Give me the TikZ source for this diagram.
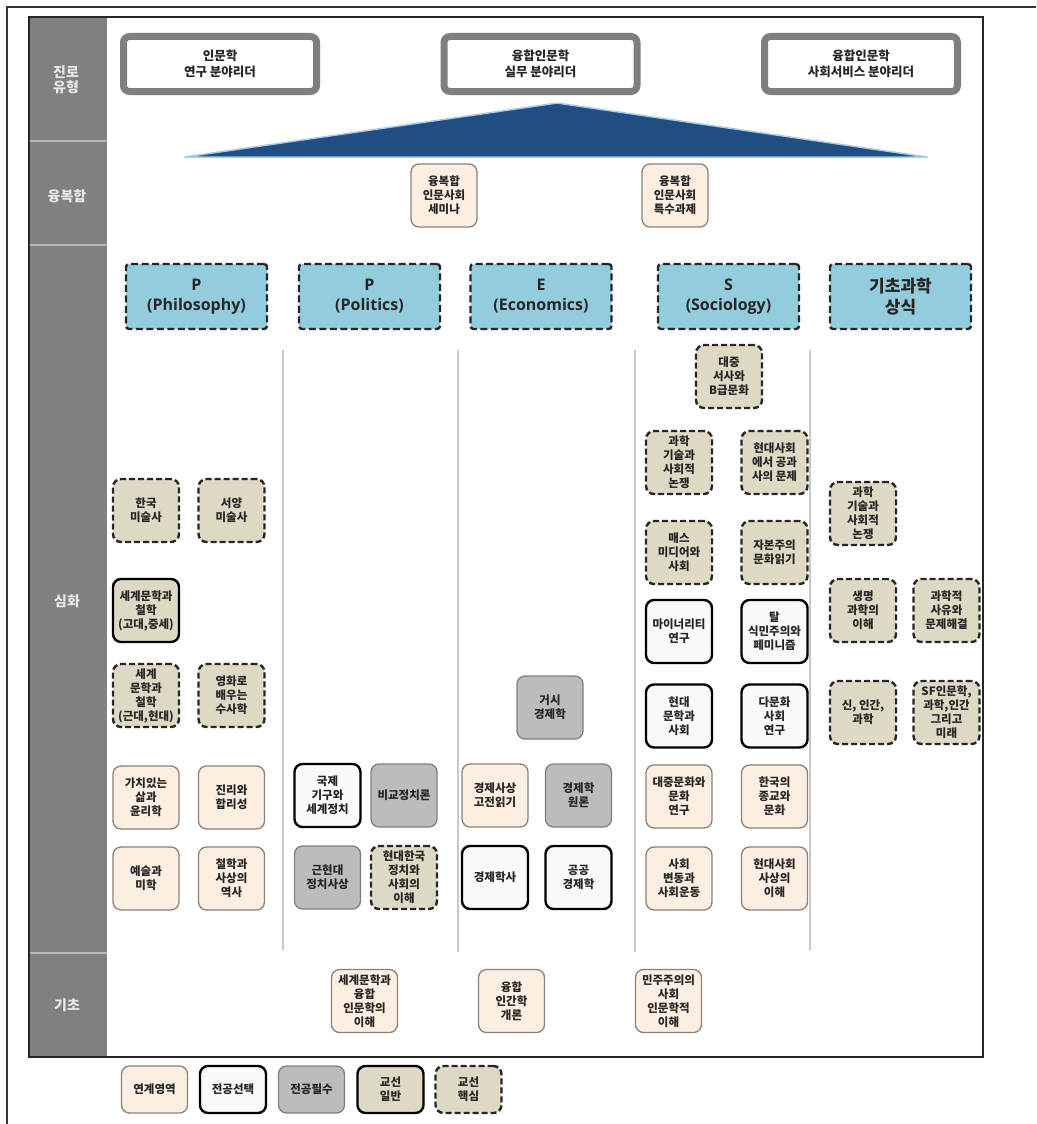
\documentclass[tikz,border=0pt]{standalone}
\usepackage{fontspec}
\setmainfont{Noto Sans CJK KR}
\newfontfamily\lat{Open Sans}
\definecolor{linen}{HTML}{FCEEE0}
\definecolor{linenb}{HTML}{8A817A}
\definecolor{selw}{HTML}{F9F9F9}
\definecolor{reqg}{HTML}{BCBCBC}
\definecolor{reqb}{HTML}{7F7F7F}
\definecolor{khaki}{HTML}{DDD9C4}
\definecolor{catb}{HTML}{93CDDD}
\definecolor{carg}{HTML}{7F7F7F}
\definecolor{sidegray}{HTML}{808080}
\definecolor{sidetxt}{HTML}{E8E8E8}
\definecolor{sidesep}{HTML}{B8B8B8}
\definecolor{sepg}{HTML}{C8C8C8}
\definecolor{tri}{HTML}{1F4E84}
\definecolor{triedge}{HTML}{A9CBEA}
\definecolor{txt}{HTML}{262626}
\begin{document}
\begin{tikzpicture}[x=1pt,y=-1pt,
  base/.style={rounded corners=8pt, minimum width=66pt, minimum height=63pt, inner sep=0pt, align=center, font=\fontsize{11.5}{14}\selectfont\bfseries, text=txt},
  lk/.style={base, fill=linen, draw=linenb, line width=1.3pt},
  sel/.style={base, fill=selw, draw=black, line width=2.4pt},
  req/.style={base, fill=reqg, draw=reqb, line width=1.3pt},
  gen/.style={base, fill=khaki, draw=black, line width=2.4pt},
  core/.style={base, fill=khaki, draw=black!85, line width=2.4pt, dash pattern=on 6pt off 3pt},
  legend/.style={minimum height=47pt},
  cat/.style={rounded corners=3pt, minimum width=141pt, minimum height=65pt, inner sep=0pt, fill=catb, draw=black!85, line width=2.4pt, dash pattern=on 7pt off 3.5pt, align=center, font=\fontsize{16}{20}\selectfont\bfseries, text=txt},
  career/.style={rounded corners=6pt, minimum width=193pt, minimum height=55pt, inner sep=0pt, draw=carg, line width=7pt, fill=white, align=center, font=\fontsize{12.5}{16}\selectfont\bfseries, text=txt},
  side/.style={font=\fontsize{14}{17}\selectfont\bfseries, text=sidetxt, align=center},
  sepline/.style={draw=sepg, line width=1.3pt}
]
\useasboundingbox (0,0) rectangle (1036,1124);
\fill[white] (0,0) rectangle (1036,1124);
% outer partial frame
\draw[line width=1.5pt, black!80] (7,1124) -- (7,7) -- (1036,7);
% side column
\fill[sidegray] (29,17) rectangle (107,1057);
\draw[sidesep, line width=1.5pt] (29,141) -- (107,141);
\draw[sidesep, line width=1.5pt] (29,245) -- (107,245);
\draw[sidesep, line width=1.5pt] (29,953) -- (107,953);
\node[side] (s1) at (66,80) {진로\\[-2pt]유형};
\node[side] (s2) at (67,196) {융복합};
\node[side] (s3) at (67,601) {심화};
\node[side] (s4) at (67,1005) {기초};
% career boxes
\node[career] (c1) at (220,64) {인문학\\연구 분야리더};
\node[career] (c2) at (540.5,64) {융합인문학\\실무 분야리더};
\node[career] (c3) at (861,64) {융합인문학\\사회서비스 분야리더};
% triangle
\draw[draw=triedge, line width=1.5pt, fill=tri, line join=round] (185,157) -- (557,103) -- (927,157) -- cycle;
% convergence
\node[lk] (f1) at (444,195.5) {융복합\\인문사회\\세미나};
\node[lk] (f2) at (675,195.5) {융복합\\인문사회\\특수과제};
% category headers
\node[cat] (k1) at (196.5,296.5) {\lat\bfseries P\\\lat\bfseries (Philosophy)};
\node[cat] (k2) at (369.5,296.5) {\lat\bfseries P\\\lat\bfseries (Politics)};
\node[cat] (k3) at (541,296.5) {\lat\bfseries E\\\lat\bfseries (Economics)};
\node[cat] (k4) at (728.5,296.5) {\lat\bfseries S\\\lat\bfseries (Sociology)};
\node[cat, font=\fontsize{17}{21}\selectfont\bfseries] (k5) at (900.5,296.5) {기초과학\\상식};
% column separators
\draw[sepline] (283,350) -- (283,950);
\draw[sepline] (458,350) -- (458,952);
\draw[sepline] (635,350) -- (635,952);
\draw[sepline] (810,350) -- (810,950);
% philosophy
\node[core] (p1) at (146,510.5) {한국\\미술사};
\node[core] (p2) at (231.5,510.5) {서양\\미술사};
\node[gen] (p3) at (146,610.5) {세계문학과\\철학\\(고대,중세)};
\node[core] (p4) at (146,695.5) {세계\\문학과\\철학\\(근대,현대)};
\node[core] (p5) at (231.5,695.5) {영화로\\배우는\\수사학};
\node[lk] (p6) at (146,797.5) {가치있는\\삶과\\윤리학};
\node[lk] (p7) at (231.5,797.5) {진리와\\합리성};
\node[lk] (p8) at (146,878.5) {예술과\\미학};
\node[lk] (p9) at (231.5,878.5) {철학과\\사상의\\역사};
% politics
\node[sel] (q1) at (327.5,795.5) {국제\\기구와\\세계정치};
\node[req] (q2) at (404,795.5) {비교정치론};
\node[req] (q3) at (327.5,877.5) {근현대\\정치사상};
\node[core] (q4) at (404,877.5) {현대한국\\정치와\\사회의\\이해};
% economics
\node[req] (e1) at (550,707.5) {거시\\경제학};
\node[lk] (e2) at (495,795.5) {경제사상\\고전읽기};
\node[req] (e3) at (578.5,795.5) {경제학\\원론};
\node[sel] (e4) at (495,877.5) {경제학사};
\node[sel] (e5) at (578.5,877.5) {공공\\경제학};
% sociology
\node[core] (o1) at (729,376.5) {대중\\서사와\\B급문화};
\node[core] (o2) at (679,462.5) {과학\\기술과\\사회적\\논쟁};
\node[core] (o3) at (774.5,462.5) {현대사회\\에서 공과\\사의 문제};
\node[core] (o4) at (679,552.5) {매스\\미디어와\\사회};
\node[core] (o5) at (774.5,552.5) {자본주의\\문화읽기};
\node[sel] (o6) at (679,631.5) {마이너리티\\연구};
\node[sel] (o7) at (774.5,631.5) {탈\\식민주의와\\페미니즘};
\node[sel] (o8) at (679,716) {현대\\문학과\\사회};
\node[sel] (o9) at (774.5,716) {다문화\\사회\\연구};
\node[lk] (o10) at (679,796.5) {대중문화와\\문화\\연구};
\node[lk] (o11) at (774.5,796.5) {한국의\\종교와\\문화};
\node[lk] (o12) at (679,878.5) {사회\\변동과\\사회운동};
\node[lk] (o13) at (774.5,878.5) {현대사회\\사상의\\이해};
% basic science
\node[core] (b1) at (863,513.5) {과학\\기술과\\사회적\\논쟁};
\node[core] (b2) at (863,610.5) {생명\\과학의\\이해};
\node[core] (b3) at (946.5,610.5) {과학적\\사유와\\문제해결};
\node[core] (b4) at (863,712.5) {신, 인간,\\과학};
\node[core] (b5) at (946.5,712.5) {SF인문학,\\과학,인간\\그리고\\미래};
% foundation
\node[lk] (g1) at (364.5,1001) {세계문학과\\융합\\인문학의\\이해};
\node[lk] (g2) at (511.5,1001) {융합\\인간학\\개론};
\node[lk] (g3) at (668.5,1001) {민주주의의\\사회\\인문학적\\이해};
% inner frame
\draw[line width=2pt, black!85] (29,17) rectangle (983,1057);
% legend
\node[lk, legend] (l1) at (154.5,1089.5) {연계영역};
\node[sel, legend] (l2) at (233,1089.5) {전공선택};
\node[req, legend] (l3) at (311.5,1089.5) {전공필수};
\node[gen, legend] (l4) at (390.5,1089.5) {교선\\일반};
\node[core, legend] (l5) at (468.5,1089.5) {교선\\핵심};
\end{tikzpicture}
\end{document}
